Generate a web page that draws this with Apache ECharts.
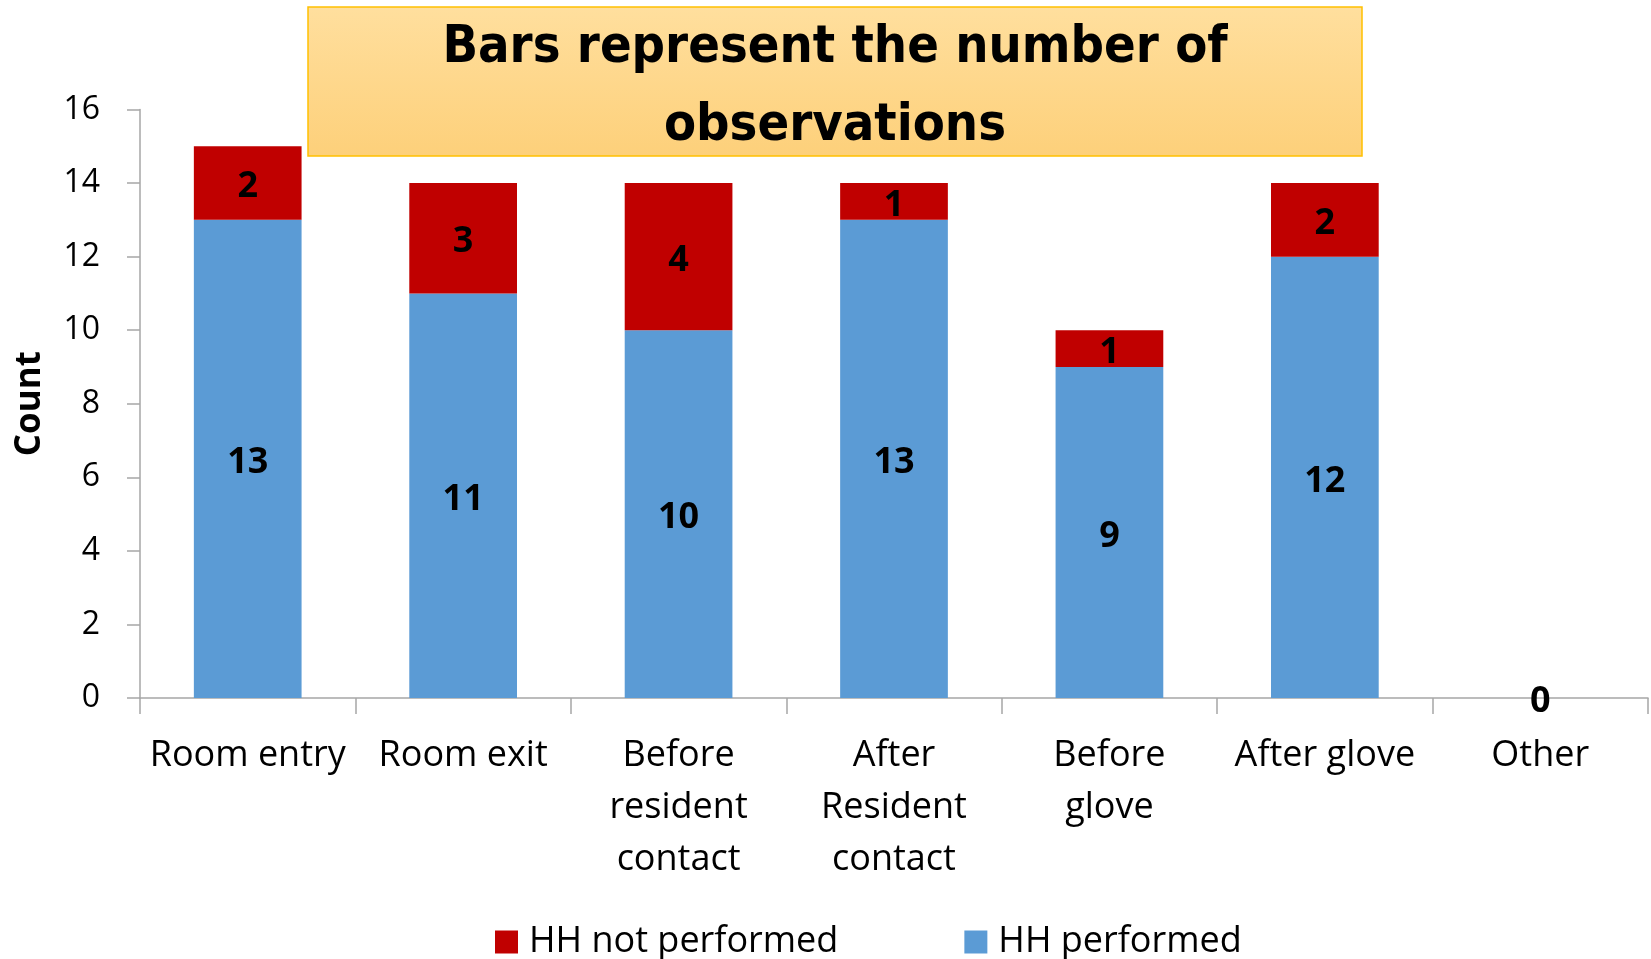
<!DOCTYPE html>
<html>
<head>
<meta charset="utf-8">
<script src="https://cdn.jsdelivr.net/npm/echarts@6/dist/echarts.min.js"></script>
<style>
  html, body { margin: 0; padding: 0; background: #fff; }
  #chart { width: 1651px; height: 959px; }
</style>
</head>
<body>
<div id="chart"></div>
<script>
// categories and counts
const categories = ['Room entry', 'Room exit', 'Before\nresident\ncontact', 'After\nResident\ncontact', 'Before\nglove', 'After glove', 'Other']
const performed = [13, 11, 10, 13, 9, 12, 0]
const notPerformed = [2, 3, 4, 1, 1, 2, 0]
const yTicks = [0, 2, 4, 6, 8, 10, 12, 14, 16]

const FONT = '"Open Sans", sans-serif'
const axisGray = '#a6a6a6'

const chart = echarts.init(document.getElementById('chart'))

const option = {
  backgroundColor: '#fff',
  animation: false,
  graphic: [
    {
      type: 'rect',
      shape: { x: 308, y: 7, width: 1054, height: 149 },
      style: {
        fill: new echarts.graphic.LinearGradient(0, 0, 0, 1, [
          { offset: 0, color: '#ffdf9e' },
          { offset: 1, color: '#fdd07a' }
        ]),
        stroke: '#ffc000',
        lineWidth: 1.5
      },
      z: 10
    },
    {
      type: 'text',
      x: 835,
      y: 87,
      style: {
        text: 'Bars represent the number of\nobservations',
        fill: '#000',
        font: 'bold 52px "DejaVu Sans Condensed", "DejaVu Sans", sans-serif',
        align: 'center',
        verticalAlign: 'middle',
        lineHeight: 78
      },
      z: 11
    }
  ],
  legend: {
    top: 919,
    left: 490,
    itemWidth: 23,
    itemHeight: 23,
    itemGap: 126,
    icon: 'rect',
    data: ['HH not performed', 'HH performed'],
    textStyle: { fontFamily: FONT, fontSize: 36, color: '#000', padding: [0, 0, 0, 6] }
  },
  grid: {
    left: 140,
    right: 3,
    top: 109.5,
    bottom: 261,
    outerBoundsMode: 'none'
  },
  xAxis: {
    type: 'category',
    data: categories,
    axisLine: { lineStyle: { color: axisGray, width: 1.5 } },
    axisTick: { show: true, length: 16, alignWithLabel: false, lineStyle: { color: axisGray, width: 1.5 } },
    axisLabel: {
      interval: 0,
      margin: 32,
      color: '#000',
      fontFamily: FONT,
      fontSize: 36,
      lineHeight: 52
    }
  },
  yAxis: {
    type: 'value',
    min: 0,
    max: 16,
    interval: 2,
    name: 'Count',
    nameLocation: 'middle',
    nameGap: 92,
    nameTextStyle: { fontFamily: FONT, fontSize: 35, fontWeight: 'bold', color: '#000' },
    axisLine: { show: true, lineStyle: { color: axisGray, width: 1.5 } },
    axisTick: { show: true, length: 13, lineStyle: { color: axisGray, width: 1.5 } },
    splitLine: { show: false },
    axisLabel: {
      margin: 40,
      color: '#000',
      fontFamily: FONT,
      fontSize: 32,
      customValues: yTicks
    }
  },
  series: [
    {
      name: 'HH performed',
      type: 'bar',
      stack: 'total',
      barCategoryGap: '50%',
      data: performed,
      itemStyle: { color: '#5b9bd5' },
      label: {
        show: true,
        position: 'inside',
        offset: [0, 4],
        color: '#000',
        fontFamily: FONT,
        fontSize: 36,
        fontWeight: 'bold',
        formatter: p => (p.value === 0 ? '' : p.value)
      }
    },
    {
      name: 'HH not performed',
      type: 'bar',
      stack: 'total',
      barCategoryGap: '50%',
      data: notPerformed,
      itemStyle: { color: '#c00000' },
      label: {
        show: true,
        position: 'inside',
        offset: [0, 4],
        color: '#000',
        fontFamily: FONT,
        fontSize: 36,
        fontWeight: 'bold'
      }
    }
  ]
}

chart.setOption(option)
</script>
</body>
</html>
